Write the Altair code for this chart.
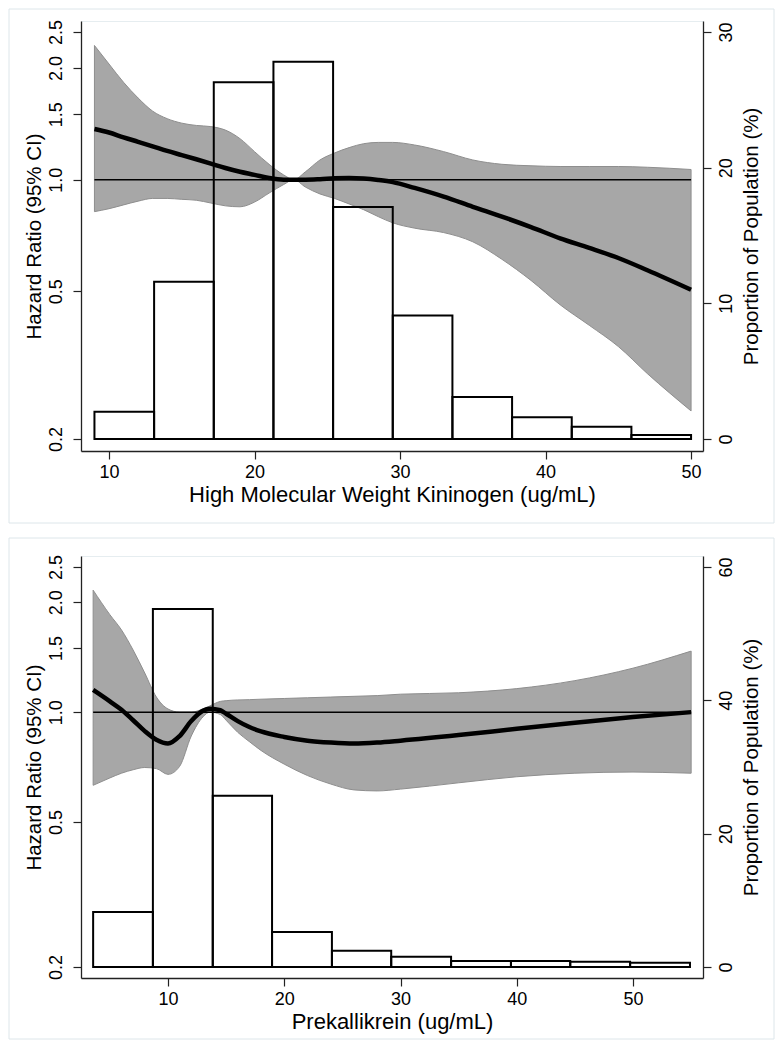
import altair as alt
import pandas as pd

# ---------------- Panel 1: High Molecular Weight Kininogen ----------------
hk_x = [9, 10, 11, 12, 13, 14, 15, 16, 17, 18, 19, 20, 21, 22, 22.7, 23.5, 24.5, 25.5,
        26.5, 27.5, 28.5, 29.5, 31, 33, 35, 37, 39, 41, 43, 45, 47, 50]
hk_hr = [1.37, 1.34, 1.30, 1.265, 1.23, 1.195, 1.165, 1.135, 1.105, 1.075, 1.05, 1.03,
         1.01, 1.0, 1.0, 1.0, 1.003, 1.008, 1.01, 1.007, 0.998, 0.985, 0.95, 0.9, 0.845,
         0.795, 0.745, 0.695, 0.655, 0.615, 0.57, 0.505]
hk_lo = [0.82, 0.835, 0.855, 0.875, 0.89, 0.89, 0.885, 0.88, 0.865, 0.85, 0.845, 0.87,
         0.92, 0.97, 1.0, 0.955, 0.915, 0.89, 0.86, 0.83, 0.795, 0.765, 0.74, 0.72, 0.68,
         0.61, 0.535, 0.46, 0.405, 0.355, 0.30, 0.238]
hk_hi = [2.30, 2.05, 1.83, 1.66, 1.53, 1.46, 1.42, 1.40, 1.39, 1.36, 1.29, 1.19, 1.10,
         1.03, 1.0, 1.05, 1.13, 1.18, 1.22, 1.25, 1.26, 1.26, 1.24, 1.19, 1.13, 1.10, 1.09,
         1.085, 1.085, 1.085, 1.08, 1.065]
hk_bin_lo = [9.0, 13.1, 17.2, 21.3, 25.4, 29.5, 33.6, 37.7, 41.8, 45.9]
hk_bin_hi = [13.1, 17.2, 21.3, 25.4, 29.5, 33.6, 37.7, 41.8, 45.9, 50.0]
hk_pct = [2.0, 11.6, 26.3, 27.8, 17.1, 9.1, 3.1, 1.6, 0.9, 0.3]
hk_ref = [9.0, 50.0]

# ---------------- Panel 2: Prekallikrein ----------------
pk_x = [3.56, 5, 6, 7, 8, 9, 10, 11, 12, 13, 13.6, 14.5, 15, 16, 17, 18, 20, 22, 24, 26,
        28, 30, 35, 40, 45, 50, 55]
pk_hr = [1.15, 1.07, 1.015, 0.95, 0.887, 0.84, 0.82, 0.86, 0.945, 1.008, 1.022, 1.012,
         0.99, 0.945, 0.91, 0.885, 0.855, 0.835, 0.825, 0.82, 0.825, 0.835, 0.865, 0.90,
         0.935, 0.97, 1.0]
pk_lo = [0.63, 0.66, 0.68, 0.695, 0.705, 0.70, 0.675, 0.71, 0.86, 0.97, 1.0, 0.985,
         0.95, 0.88, 0.83, 0.785, 0.72, 0.67, 0.635, 0.612, 0.608, 0.615, 0.64, 0.665,
         0.68, 0.685, 0.68]
pk_hi = [2.16, 1.85, 1.68, 1.48, 1.28, 1.10, 1.02, 1.0, 1.0, 1.02, 1.04, 1.07, 1.075,
         1.08, 1.082, 1.085, 1.09, 1.095, 1.10, 1.105, 1.11, 1.12, 1.13, 1.16, 1.22, 1.32,
         1.47]
pk_bin_lo = [3.56, 8.7, 13.85, 18.95, 24.1, 29.2, 34.35, 39.5, 44.6, 49.75]
pk_bin_hi = [8.7, 13.85, 18.95, 24.1, 29.2, 34.35, 39.5, 44.6, 49.75, 54.9]
pk_pct = [8.25, 53.7, 25.7, 5.25, 2.45, 1.55, 0.9, 0.9, 0.8, 0.65]
pk_ref = [3.56, 55.0]

hr_ticks = [0.2, 0.5, 1.0, 1.5, 2.0, 2.5]
x_ticks = [10, 20, 30, 40, 50]

FONT = "Liberation Sans"
W = 622


def panel(x, hr, lo, hi, blo, bhi, pct, ref, xdom, ydom, pdom, pticks, xtitle, h, frame):
    curve = pd.DataFrame({"x": x, "hr": hr, "lo": lo, "hi": hi})
    bars = pd.DataFrame({"b0": blo, "b1": bhi, "pct": pct})
    refdf = pd.DataFrame({"x0": [ref[0]], "x1": [ref[1]], "y": [1.0]})

    xs = alt.Scale(domain=xdom, nice=False, zero=False)
    ys = alt.Scale(type="log", domain=ydom, nice=False)
    ps = alt.Scale(domain=pdom, nice=False, zero=False)

    border = alt.Chart(alt.Data(values=[{}])).mark_rect(
        filled=False, color="#dde6ea", strokeWidth=1
    ).encode(
        x=alt.value(frame[0]), x2=alt.value(frame[1]),
        y=alt.value(frame[2]), y2=alt.value(frame[3]),
    )

    band = alt.Chart(curve).mark_area(
        color="#a7a7a7", stroke="#8e8e8e", strokeWidth=1, interpolate="monotone", opacity=1
    ).encode(
        x=alt.X("x:Q", scale=xs, axis=alt.Axis(
            title=xtitle, values=x_ticks, format="d", tickSize=8, labelPadding=4,
            titlePadding=3, labelFontSize=18, titleFontSize=22, grid=False,
            titleFontWeight="normal")),
        y=alt.Y("lo:Q", scale=ys, axis=alt.Axis(
            orient="left", title="Hazard Ratio (95% CI)", values=hr_ticks, format=".1f",
            labelAngle=270, labelAlign="center", labelBaseline="bottom", labelPadding=8,
            tickSize=8, titlePadding=3, labelFontSize=18, titleFontSize=20.5, grid=False,
            titleFontWeight="normal")),
        y2="hi:Q",
    )

    hist = alt.Chart(bars).mark_bar(
        fill="white", fillOpacity=0, stroke="black", strokeWidth=2
    ).encode(
        x=alt.X("b0:Q", scale=xs),
        x2="b1:Q",
        y=alt.Y("pct:Q", scale=ps, axis=alt.Axis(
            orient="right", title="Proportion of Population (%)", values=pticks, format="d",
            labelAngle=270, labelAlign="center", labelBaseline="top", labelPadding=6,
            tickSize=8, titleAngle=270, titleBaseline="top", titlePadding=6,
            labelFontSize=18, titleFontSize=20.5, grid=False, titleFontWeight="normal")),
        y2=alt.Y2Datum(0),
    )

    rule = alt.Chart(refdf).mark_rule(color="black", strokeWidth=1.5).encode(
        x=alt.X("x0:Q", scale=xs), x2="x1:Q",
        y=alt.Y("y:Q", scale=ys, axis=None),
    )
    line = alt.Chart(curve).mark_line(
        color="black", strokeWidth=4.5, interpolate="monotone"
    ).encode(
        x=alt.X("x:Q", scale=xs),
        y=alt.Y("hr:Q", scale=ys, axis=None),
    )

    return alt.layer(border, band, hist, alt.layer(rule, line)).resolve_scale(
        y="independent"
    ).properties(width=W, height=h)


top = panel(hk_x, hk_hr, hk_lo, hk_hi, hk_bin_lo, hk_bin_hi, hk_pct, hk_ref,
            [8.076, 50.82], [0.1856, 2.677], [-0.884, 30.81], [0, 10, 20, 30],
            "High Molecular Weight Kininogen (ug/mL)", 430, (-72, 693, -12, 502))

bottom = panel(pk_x, pk_hr, pk_lo, pk_hi, pk_bin_lo, pk_bin_hi, pk_pct, pk_ref,
               [2.516, 56.02], [0.1866, 2.68], [-1.65, 61.65], [0, 20, 40, 60],
               "Prekallikrein (ug/mL)", 422, (-72, 693, -18, 483))

chart = alt.vconcat(top, bottom, spacing=13).properties(
    padding={"left": 0, "top": 0, "right": 0, "bottom": 0},
    background="white",
).configure_view(
    stroke="#e6edf0", strokeWidth=1
).configure_axis(
    labelFont=FONT, titleFont=FONT, labelColor="black", titleColor="black",
    titleFontWeight="normal", domainColor="#222222", domainWidth=1.3,
    tickColor="#222222", tickWidth=1.2, grid=False
)

chart.save("out.html", embed_options={"renderer": "svg", "actions": False})
